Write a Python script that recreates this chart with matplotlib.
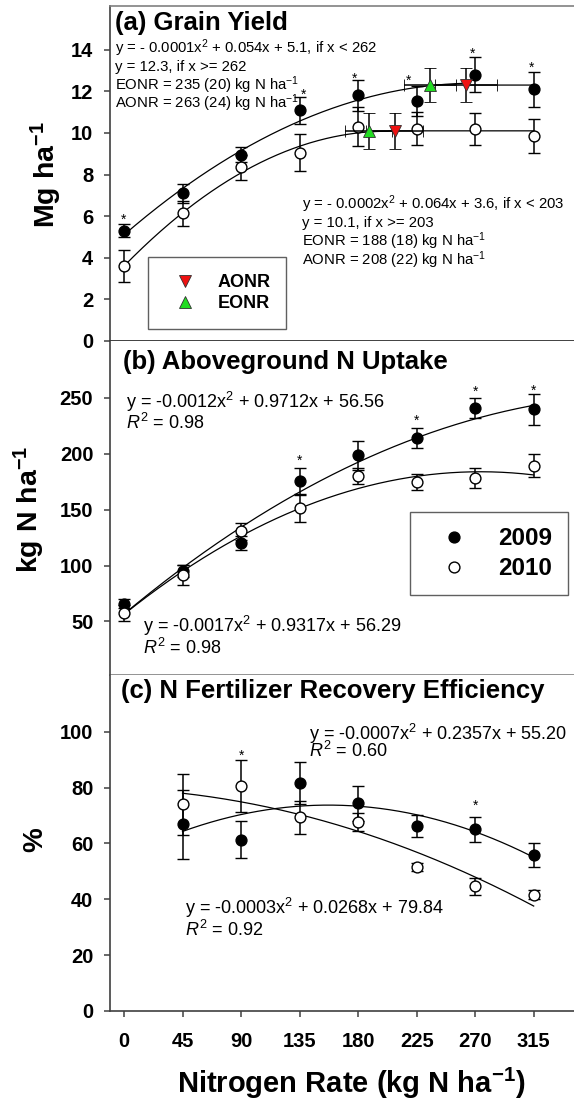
import numpy as np
import matplotlib
matplotlib.use('Agg')
import matplotlib.pyplot as plt
from matplotlib.lines import Line2D

plt.rcParams['font.family'] = ['Liberation Sans', 'DejaVu Sans']
plt.rcParams['mathtext.fontset'] = 'custom'
plt.rcParams['mathtext.rm'] = 'Liberation Sans'
plt.rcParams['mathtext.it'] = 'Liberation Sans:italic'
plt.rcParams['mathtext.bf'] = 'Liberation Sans:bold'
plt.rcParams['mathtext.default'] = 'regular'

# ---------------- data ----------------
N_rate = [0, 45, 90, 135, 180, 225, 270, 315]
N_rate_c = [45, 90, 135, 180, 225, 270, 315]
xticks = [0, 45, 90, 135, 180, 225, 270, 315]

# (a) grain yield, Mg/ha
gy_2009 = [5.3, 7.1, 8.95, 11.1, 11.8, 11.55, 12.8, 12.1]
gy_2009_se = [0.3, 0.45, 0.35, 0.65, 0.75, 0.72, 0.85, 0.83]
gy_2010 = [3.6, 6.15, 8.35, 9.05, 10.3, 10.2, 10.2, 9.85]
gy_2010_se = [0.75, 0.6, 0.6, 0.9, 0.93, 0.8, 0.76, 0.82]
gy_fit_2009 = [-0.0001, 0.054, 5.1]
gy_join_2009, gy_plat_2009 = 262, 12.3
gy_fit_2010 = [-0.000158, 0.064, 3.6]
gy_join_2010, gy_plat_2010 = 203, 10.1

eonr_x = [235, 188]
eonr_xerr = [20, 18]
eonr_y = [12.3, 10.1]
eonr_yerr = [0.8, 0.85]
aonr_x = [263, 208]
aonr_xerr = [24, 22]
aonr_y = [12.3, 10.1]
aonr_yerr = [0.8, 0.85]

stars_a_x = [0, 138, 177, 219, 268, 313]
stars_a_y = [6.0, 12.0, 12.8, 12.7, 14.0, 13.3]

# (b) aboveground N uptake, kg N/ha
nu_2009 = [65.8, 94.8, 120, 175.4, 198.7, 214.2, 241, 240]
nu_2009_se = [4, 5.5, 6, 12, 13, 9, 9.3, 14]
nu_2010 = [57.5, 91.2, 130.6, 151.5, 179.9, 174.8, 178.4, 189.4]
nu_2010_se = [7.5, 9, 7.8, 12.4, 7, 7.5, 9, 10]
nu_fit_2009 = [-0.0012, 0.9712, 56.56]
nu_fit_2010 = [-0.0017, 0.9317, 56.29]
stars_b_x = [135, 225, 270, 315]
stars_b_y = [196.9, 232.7, 259, 259.9]

# (c) N fertilizer recovery efficiency, %
re_2009 = [66.9, 61.4, 81.5, 74.3, 66.2, 65.1, 55.7]
re_2009_se = [12.3, 6.5, 7.5, 6.4, 4, 4.5, 4.3]
re_2010 = [74.0, 80.6, 69.3, 67.7, 51.6, 44.7, 41.7]
re_2010_se = [10.9, 9.4, 6, 3.3, 1.5, 3, 1.7]
re_fit_2009 = [-0.00075, 0.2357, 55.2]
re_fit_2010 = [-0.00036, -0.02, 79.6]
stars_c_x = [90, 270]
stars_c_y = [92.8, 74.9]

eq_a1 = ["y = - 0.0001x$^2$ + 0.054x + 5.1, if x < 262",
         "y = 12.3, if x >= 262",
         "EONR = 235 (20) kg N ha$^{-1}$",
         "AONR = 263 (24) kg N ha$^{-1}$"]
eq_a2 = ["y = - 0.0002x$^2$ + 0.064x + 3.6, if x < 203",
         "y = 10.1, if x >= 203",
         "EONR = 188 (18) kg N ha$^{-1}$",
         "AONR = 208 (22) kg N ha$^{-1}$"]
eq_b1 = ["y = -0.0012x$^2$ + 0.9712x + 56.56", r"$\mathit{R}^2$ = 0.98"]
eq_b2 = ["y = -0.0017x$^2$ + 0.9317x + 56.29", r"$\mathit{R}^2$ = 0.98"]
eq_c1 = ["y = -0.0007x$^2$ + 0.2357x + 55.20", r"$\mathit{R}^2$ = 0.60"]
eq_c2 = ["y = -0.0003x$^2$ + 0.0268x + 79.84", r"$\mathit{R}^2$ = 0.92"]

# ---------------- layout ----------------
W, H = 574, 1101
fig = plt.figure(figsize=(W / 100, H / 100), dpi=100)
Lp, Rp = 110, 593


def axpos(top, bot):
    return [Lp / W, 1 - bot / H, (Rp - Lp) / W, (bot - top) / H]


axA = fig.add_axes(axpos(6, 341))
axB = fig.add_axes(axpos(341, 675))
axC = fig.add_axes(axpos(675, 1011))

XLIM = (-10.76, 360.6)


def ftxt(px, py, s, **kw):
    return fig.text(px / W, 1 - py / H, s, **kw)


def poly(c, x):
    return c[0] * x ** 2 + c[1] * x + c[2]


def style(ax, ylim, yticks, top_col, bot_col, showx=False):
    ax.set_xlim(*XLIM)
    ax.set_ylim(*ylim)
    ax.set_yticks(yticks)
    ax.spines['right'].set_visible(False)
    if top_col is None:
        ax.spines['top'].set_visible(False)
    else:
        ax.spines['top'].set_color(top_col)
    ax.spines['bottom'].set_color(bot_col)
    ax.spines['left'].set_color('#404040')
    for s in ax.spines.values():
        s.set_linewidth(1.2)
    ax.tick_params(axis='y', direction='out', length=4, width=1.1, pad=8,
                   labelsize=14.5, color='#404040')
    for lab in ax.get_yticklabels():
        lab.set_fontweight('bold')
    if showx:
        ax.set_xticks(xticks)
        ax.tick_params(axis='x', direction='out', length=4, width=1.1, pad=11,
                       labelsize=14.5, color='#404040')
        for lab in ax.get_xticklabels():
            lab.set_fontweight('bold')
    else:
        ax.tick_params(axis='x', bottom=False, labelbottom=False)


eb = dict(ecolor='black', elinewidth=1.1, capsize=4.6, capthick=1.1, ls='none')
filled = dict(marker='o', ms=7.8, mfc='black', mec='black', mew=1.0)
opened = dict(marker='o', ms=7.8, mfc='white', mec='black', mew=1.0)


def stars(ax, xs, ys):
    for x, y in zip(xs, ys):
        ax.annotate('*', (x, y), xytext=(0, -5.5), textcoords='offset points',
                    ha='center', va='baseline', fontsize=10)


# ---------------- panel a ----------------
xx = np.linspace(0, 315, 400)
y9 = np.where(xx < gy_join_2009, poly(gy_fit_2009, xx), gy_plat_2009)
y10 = np.where(xx < gy_join_2010, poly(gy_fit_2010, xx), gy_plat_2010)
axA.plot(xx, y9, color='black', lw=0.9, zorder=2)
axA.plot(xx, y10, color='black', lw=0.9, zorder=2)
axA.errorbar(N_rate, gy_2010, yerr=gy_2010_se, **opened, **eb, zorder=3)
axA.errorbar(N_rate, gy_2009, yerr=gy_2009_se, **filled, **eb, zorder=3)
axA.errorbar(eonr_x, eonr_y, xerr=eonr_xerr, yerr=eonr_yerr, marker='^', ms=8,
             mfc='#22dd22', mec='#303030', mew=0.6, **eb, zorder=4)
axA.errorbar(aonr_x, aonr_y, xerr=aonr_xerr, yerr=aonr_yerr, marker='v', ms=8,
             mfc='#ee1111', mec='#303030', mew=0.6, **eb, zorder=4)
stars(axA, stars_a_x, stars_a_y)
style(axA, (0, 16.1), [0, 2, 4, 6, 8, 10, 12, 14], '#808080', '#202020')

hA = [Line2D([], [], ls='none', marker='v', ms=8, mfc='#ee1111', mec='#303030', mew=0.6),
      Line2D([], [], ls='none', marker='^', ms=8, mfc='#22dd22', mec='#303030', mew=0.6)]
legA = axA.legend(hA, ['AONR', 'EONR'], loc='upper left',
                  bbox_to_anchor=((148 - Lp) / (Rp - Lp), (341 - 257) / 335,
                                  (286 - 148) / (Rp - Lp), 0.0),
                  mode='expand', borderaxespad=0, fancybox=False,
                  edgecolor='#606060', framealpha=1, borderpad=0.95,
                  labelspacing=0.22, handlelength=2.2, handletextpad=0.7,
                  prop={'weight': 'bold', 'size': 13})
legA.get_frame().set_linewidth(1.0)

ftxt(115, 23, "(a) Grain Yield", fontsize=18.5, fontweight='bold', va='center', ha='left')
for i, s in enumerate(eq_a1):
    ftxt(115, 48 + 18.5 * i, s, fontsize=10.7, va='center', ha='left')
for i, s in enumerate(eq_a2):
    ftxt(302, 204 + 18.7 * i, s, fontsize=10.7, va='center', ha='left')
ftxt(46, 175, r"Mg ha$^{\mathbf{-1}}$", fontsize=20.5, fontweight='bold',
     rotation=90, va='center', ha='center')

# ---------------- panel b ----------------
axB.plot(xx, poly(nu_fit_2009, xx), color='black', lw=0.9, zorder=2)
axB.plot(xx, poly(nu_fit_2010, xx), color='black', lw=0.9, zorder=2)
axB.errorbar(N_rate, nu_2009, yerr=nu_2009_se, **filled, **eb, zorder=3)
axB.errorbar(N_rate, nu_2010, yerr=nu_2010_se, **opened, **eb, zorder=3)
stars(axB, stars_b_x, stars_b_y)
style(axB, (2, 301), [50, 100, 150, 200, 250], None, '#808080')

hB = [Line2D([], [], ls='none', **filled), Line2D([], [], ls='none', **opened)]
legB = axB.legend(hB, ['2009', '2010'], loc='upper left',
                  bbox_to_anchor=((410 - Lp) / (Rp - Lp), (675 - 512) / 334,
                                  (568 - 410) / (Rp - Lp), 0.0),
                  mode='expand', borderaxespad=0, fancybox=False,
                  edgecolor='#606060', framealpha=1, borderpad=0.62,
                  labelspacing=0.3, handlelength=2.4, handletextpad=0.6,
                  prop={'weight': 'bold', 'size': 17.5})
legB.get_frame().set_linewidth(1.0)

ftxt(123, 362, "(b) Aboveground N Uptake", fontsize=18.5, fontweight='bold', va='center', ha='left')
for i, s in enumerate(eq_b1):
    ftxt(126, 402 + 21 * i, s, fontsize=13, va='center', ha='left')
for i, s in enumerate(eq_b2):
    ftxt(143, 626 + 22 * i, s, fontsize=13, va='center', ha='left')
ftxt(29, 509, r"kg N ha$^{\mathbf{-1}}$", fontsize=20.5, fontweight='bold',
     rotation=90, va='center', ha='center')

# ---------------- panel c ----------------
xc = np.linspace(45, 315, 300)
axC.plot(xc, poly(re_fit_2009, xc), color='black', lw=0.9, zorder=2)
axC.plot(xc, poly(re_fit_2010, xc), color='black', lw=0.9, zorder=2)
axC.errorbar(N_rate_c, re_2010, yerr=re_2010_se, **opened, **eb, zorder=3)
axC.errorbar(N_rate_c, re_2009, yerr=re_2009_se, **filled, **eb, zorder=3)
stars(axC, stars_c_x, stars_c_y)
style(axC, (0, 120.3), [0, 20, 40, 60, 80, 100], None, '#404040', showx=True)

ftxt(121, 691, "(c) N Fertilizer Recovery Efficiency", fontsize=18.5, fontweight='bold',
     va='center', ha='left')
for i, s in enumerate(eq_c1):
    ftxt(309, 734 + 17 * i, s, fontsize=13, va='center', ha='left')
for i, s in enumerate(eq_c2):
    ftxt(185, 908 + 22 * i, s, fontsize=13, va='center', ha='left')
ftxt(35, 840, "%", fontsize=20, fontweight='bold', rotation=90, va='center', ha='center')
ftxt(351, 1083, r"Nitrogen Rate (kg N ha$^{\mathbf{-1}}$)", fontsize=21, fontweight='bold',
     va='center', ha='center')

fig.savefig('out.png', dpi=100)
